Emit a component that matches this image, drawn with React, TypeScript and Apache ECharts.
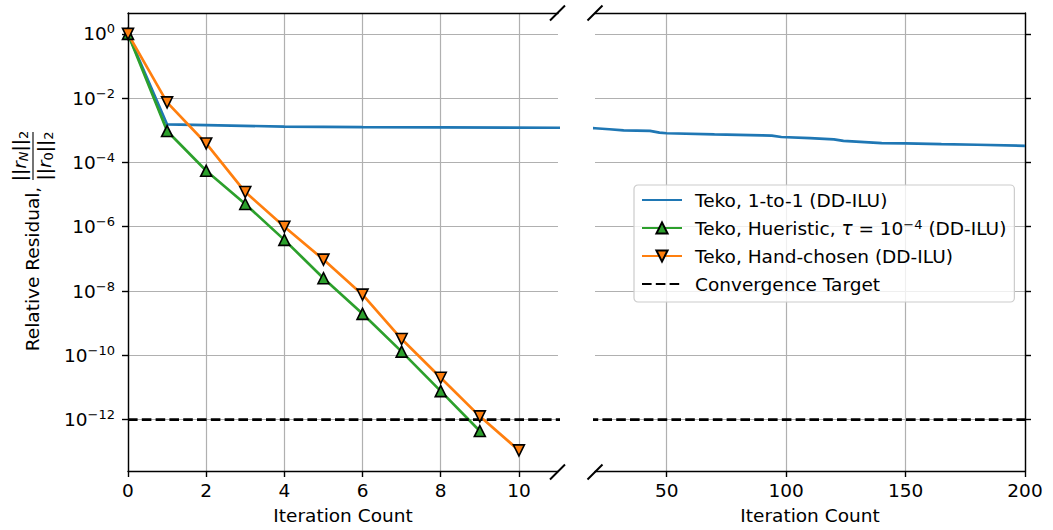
import React, { useEffect, useRef } from "react";
import * as echarts from "echarts";

// ---------- data ----------
const seriesNames = [
  "Teko, 1-to-1 (DD-ILU)",
  "Teko, Hueristic, τ = 10^-4 (DD-ILU)",
  "Teko, Hand-chosen (DD-ILU)",
  "Convergence Target",
];

const blueIterations = [0, 1, 2, 4, 6, 8, 11, 15, 20, 26, 32, 43, 47, 50, 70, 90, 94, 98, 110, 120, 124, 140, 150, 165, 180, 200];
const blueResiduals = [
  1, 1.52e-3, 1.45e-3, 1.31e-3, 1.26e-3, 1.23e-3, 1.2e-3, 1.18e-3, 1.16e-3, 1.08e-3, 1.0e-3, 9.6e-4, 8.5e-4,
  8.1e-4, 7.5e-4, 7.0e-4, 6.8e-4, 6.2e-4, 5.7e-4, 5.2e-4, 4.7e-4, 4.0e-4, 3.9e-4, 3.7e-4, 3.55e-4, 3.3e-4,
];

const greenIterations = [0, 1, 2, 3, 4, 5, 6, 7, 8, 9];
const greenResiduals = [1, 9.5e-4, 5.5e-5, 5.1e-6, 3.9e-7, 2.5e-8, 1.95e-9, 1.3e-10, 7.7e-12, 4.4e-13];

const orangeIterations = [0, 1, 2, 3, 4, 5, 6, 7, 8, 9, 10];
const orangeResiduals = [1, 7.4e-3, 3.9e-4, 1.2e-5, 1.0e-6, 9.5e-8, 7.7e-9, 3.2e-10, 2.0e-11, 1.26e-12, 1.1e-13];

const targetIterations = [0, 200];
const targetResiduals = [1e-12, 1e-12];

const leftXRange = [0, 11];
const rightXRange = [20, 200];
const leftXTicks = [0, 2, 4, 6, 8, 10];
const rightXTicks = [50, 100, 150, 200];
const yTicks = [1, 1e-2, 1e-4, 1e-6, 1e-8, 1e-10, 1e-12];
const yLogRange = [-13.6, 0.65];

// ---------- styles ----------
const FONT = "DejaVu Sans";
const FS = 18.5;
const FS_SUP = 13;
const BLUE = "#1f77b4";
const ORANGE = "#ff7f0e";
const GREEN = "#2ca02c";
const GRID_COLOR = "#b0b0b0";
const LW = 2.7;
const CLEAR = "rgba(0,0,0,0)";

const zip = (xs: number[], ys: number[]) => xs.map((x, i) => [x, ys[i]]);

const supMinus = (e: number) => (e < 0 ? "\u2212" + -e : String(e));

const axisLineStyle = { show: true, onZero: false, lineStyle: { color: "#000", width: 1.4 } };
const tickStyle = { length: 6, inside: false, lineStyle: { color: "#000", width: 1.4 } };
const splitStyle = { show: true, lineStyle: { color: GRID_COLOR, width: 1.2 } };
const labelBase = { fontFamily: FONT, fontSize: FS, color: "#000" };

function buildOption() {
  const yMin = Math.pow(10, yLogRange[0]);
  const yMax = Math.pow(10, yLogRange[1]);

  const yLabelFormatter = (v: number) => {
    const e = Math.round(Math.log10(v));
    return `{b|10}{s|${supMinus(e)}}`;
  };
  const yRich = {
    b: { fontFamily: FONT, fontSize: FS, lineHeight: 23, color: "#000" },
    s: { fontFamily: FONT, fontSize: FS_SUP, lineHeight: 13, verticalAlign: "top", color: "#000" },
  };

  const xBottom = (gridIndex: number, range: number[], ticks: number[]) => ({
    type: "value",
    gridIndex,
    position: "bottom",
    min: range[0],
    max: range[1],
    axisLine: axisLineStyle,
    axisTick: { show: true, customValues: ticks, ...tickStyle },
    axisLabel: { show: true, customValues: ticks, margin: 10, ...labelBase },
    splitLine: splitStyle,
    name: "Iteration Count",
    nameLocation: "middle",
    nameGap: 35,
    nameTextStyle: labelBase,
  });
  const xTop = (gridIndex: number, range: number[]) => ({
    type: "value",
    gridIndex,
    position: "top",
    min: range[0],
    max: range[1],
    axisLine: axisLineStyle,
    axisTick: { show: false },
    axisLabel: { show: false },
    splitLine: { show: false },
  });

  // plain line: a transparent symbol keeps the legend icon a bare line
  const lineSeries = (
    name: string,
    xi: number,
    data: number[][],
    color: string,
    extra: Record<string, unknown> = {}
  ) => ({
    type: "line",
    name,
    xAxisIndex: xi,
    yAxisIndex: xi,
    data,
    symbol: "circle",
    showSymbol: false,
    lineStyle: { color, width: LW },
    itemStyle: { color: CLEAR, borderColor: CLEAR, borderWidth: 0 },
    clip: true,
    ...extra,
  });

  const markerExtra = (color: string, rotate: number) => ({
    symbol: "triangle",
    symbolSize: 11,
    symbolRotate: rotate,
    showSymbol: true,
    itemStyle: { color, borderColor: "#000", borderWidth: 1.6 },
  });

  const dashExtra = { lineStyle: { color: "#000", width: LW, type: [9.6, 4.2] } };

  const breakMark = (cx: number, cy: number) => ({
    type: "line",
    silent: true,
    z: 100,
    shape: { x1: cx - 7.5, y1: cy + 7.5, x2: cx + 7.5, y2: cy - 7.5 },
    style: { stroke: "#000", lineWidth: 2 },
  });

  const fracRich = {
    n: { fontFamily: FONT, fontSize: FS, lineHeight: 21, fill: "#000" },
    r: { fontFamily: FONT, fontSize: FS, lineHeight: 21, fontStyle: "italic", fill: "#000" },
    subi: { fontFamily: FONT, fontSize: FS_SUP, lineHeight: 13, fontStyle: "italic", verticalAlign: "bottom", fill: "#000" },
    sub: { fontFamily: FONT, fontSize: FS_SUP, lineHeight: 13, verticalAlign: "bottom", fill: "#000" },
  };

  return {
    animation: false,
    backgroundColor: "#ffffff",
    textStyle: { fontFamily: FONT },
    grid: [
      { left: 128, top: 13, width: 430, height: 459, containLabel: false },
      { left: 595, top: 13, width: 430, height: 459, containLabel: false },
    ],
    xAxis: [
      xBottom(0, leftXRange, leftXTicks),
      xBottom(1, rightXRange, rightXTicks),
      xTop(0, leftXRange),
      xTop(1, rightXRange),
    ],
    yAxis: [
      {
        type: "log",
        logBase: 10,
        gridIndex: 0,
        position: "left",
        min: yMin,
        max: yMax,
        axisLine: axisLineStyle,
        axisTick: { show: true, customValues: yTicks, ...tickStyle },
        axisLabel: {
          show: true,
          customValues: yTicks,
          margin: 13,
          formatter: yLabelFormatter,
          rich: yRich,
          ...labelBase,
        },
        splitLine: splitStyle,
        minorTick: { show: false },
        minorSplitLine: { show: false },
      },
      {
        type: "log",
        logBase: 10,
        gridIndex: 1,
        position: "right",
        min: yMin,
        max: yMax,
        axisLine: axisLineStyle,
        axisTick: { show: true, customValues: yTicks, ...tickStyle },
        axisLabel: { show: false, customValues: yTicks },
        splitLine: splitStyle,
        minorTick: { show: false },
        minorSplitLine: { show: false },
      },
    ],
    legend: {
      data: seriesNames,
      orient: "vertical",
      left: 634,
      top: 185,
      padding: [5, 8, 8, 7],
      itemWidth: 40,
      itemHeight: 14,
      itemGap: 8,
      backgroundColor: "rgba(255,255,255,0.8)",
      borderColor: "#cccccc",
      borderWidth: 1.2,
      borderRadius: 4,
      selectedMode: false,
      formatter: (name: string) =>
        name === seriesNames[1] ? "Teko, Hueristic, {i|τ} = 10{s|\u22124} (DD-ILU)" : name,
      textStyle: {
        fontFamily: FONT,
        fontSize: FS,
        lineHeight: 20,
        color: "#000",
        padding: [0, 0, 0, 8],
        rich: {
          i: { fontFamily: FONT, fontSize: FS, lineHeight: 20, fontStyle: "italic", color: "#000" },
          s: { fontFamily: FONT, fontSize: FS_SUP, lineHeight: 13, verticalAlign: "top", color: "#000" },
        },
      },
      z: 50,
    },
    series: [
      lineSeries(seriesNames[0], 0, zip(blueIterations, blueResiduals), BLUE),
      lineSeries(seriesNames[1], 0, zip(greenIterations, greenResiduals), GREEN, markerExtra(GREEN, 0)),
      lineSeries(seriesNames[2], 0, zip(orangeIterations, orangeResiduals), ORANGE, markerExtra(ORANGE, 180)),
      lineSeries(seriesNames[3], 0, zip(targetIterations, targetResiduals), "#000", dashExtra),
      lineSeries(seriesNames[0], 1, zip(blueIterations, blueResiduals), BLUE),
      lineSeries(seriesNames[3], 1, zip(targetIterations, targetResiduals), "#000", dashExtra),
    ],
    graphic: [
      breakMark(557.5, 13),
      breakMark(557.5, 472),
      breakMark(595, 13),
      breakMark(595, 472),
      {
        type: "group",
        x: 33,
        y: 244,
        rotation: Math.PI / 2,
        silent: true,
        children: [
          {
            type: "text",
            style: {
              text: "Relative Residual,",
              x: -25,
              y: -1,
              align: "center",
              verticalAlign: "middle",
              fontFamily: FONT,
              fontSize: FS,
              fill: "#000",
            },
          },
          {
            type: "text",
            style: {
              text: "{n|||}{r|r}{subi|N}{n|||}{sub|2}",
              x: 88,
              y: -14,
              align: "center",
              verticalAlign: "middle",
              fontFamily: FONT,
              fontSize: FS,
              fill: "#000",
              rich: fracRich,
            },
          },
          {
            type: "line",
            shape: { x1: 64, y1: 0, x2: 112, y2: 0 },
            style: { stroke: "#000", lineWidth: 1.1 },
          },
          {
            type: "text",
            style: {
              text: "{n|||}{r|r}{sub|0}{n|||}{sub|2}",
              x: 88,
              y: 11,
              align: "center",
              verticalAlign: "middle",
              fontFamily: FONT,
              fontSize: FS,
              fill: "#000",
              rich: fracRich,
            },
          },
        ],
      },
    ],
  };
}

export default function App() {
  const ref = useRef<HTMLDivElement>(null);
  useEffect(() => {
    if (!ref.current) return;
    const chart = echarts.init(ref.current, null, { renderer: "svg" });
    chart.setOption(buildOption() as any);
    return () => chart.dispose();
  }, []);
  return (
    <div
      ref={ref}
      style={{ position: "fixed", left: 0, top: 0, width: 1053, height: 530, background: "#fff" }}
    />
  );
}
